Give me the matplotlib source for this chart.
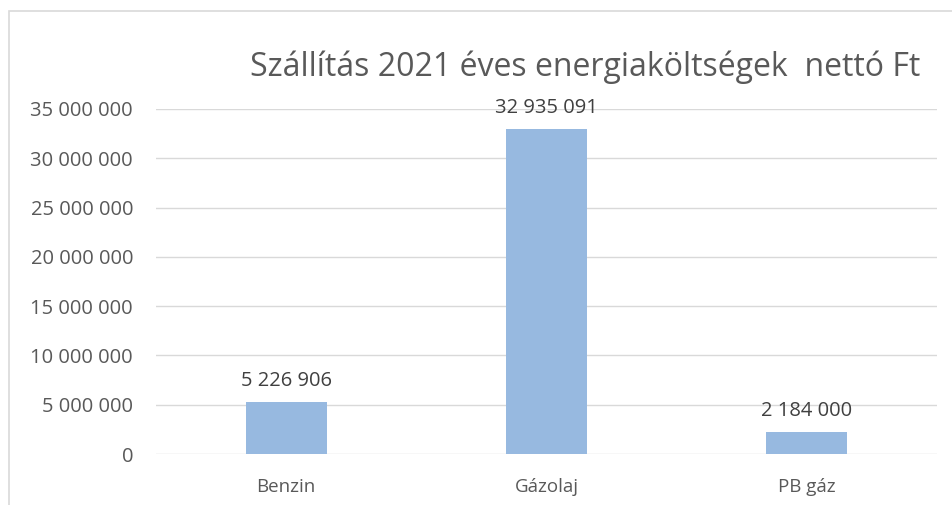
import matplotlib as mpl
mpl.use("Agg")
import matplotlib.pyplot as plt
from matplotlib.patches import Rectangle
from matplotlib.ticker import FuncFormatter

plt.rcParams['font.family'] = ['Open Sans', 'DejaVu Sans']

categories = ["Benzin", "Gázolaj", "PB gáz"]
values = [5226906, 32935091, 2184000]
yticks = [0, 5000000, 10000000, 15000000, 20000000, 25000000, 30000000, 35000000]
title = "Szállítás 2021 éves energiaköltségek  nettó Ft"

txt = "#595959"
grid = "#D9D9D9"
bar_color = "#97B9E0"

def fmt(v):
    return "{:,}".format(int(v)).replace(",", " ")

fig = plt.figure(figsize=(9.52, 5.05), dpi=100)
W, H = 952, 505

# chart frame (only left and top edges are visible in the crop)
fig.patches.append(Rectangle((9 / W, -0.5), 2.0, 1.5 - 11 / H, transform=fig.transFigure,
                             fill=False, edgecolor=grid, linewidth=1.2))

ax = fig.add_axes([156 / W, 1 - 454 / H, (937 - 156) / W, (454 - 109) / H])
x = range(len(categories))
ax.bar(x, values, width=0.31, color=bar_color, zorder=2)
ax.set_xlim(-0.5, 2.5)
ax.set_ylim(0, 35000000)
ax.set_yticks(yticks)
ax.yaxis.set_major_formatter(FuncFormatter(lambda v, p: fmt(v)))
ax.set_xticks(list(x))
ax.set_xticklabels(categories)
ax.grid(axis="y", color=grid, linewidth=1.0, zorder=0)
for s in ax.spines.values():
    s.set_visible(False)
ax.tick_params(length=0, colors=txt)
ax.tick_params(axis="y", pad=16.5, labelsize=14.5)
ax.tick_params(axis="x", pad=17.5, labelsize=13.5)

for xi, v in zip(x, values):
    ax.annotate(fmt(v), (xi, v), xytext=(0, 8), textcoords="offset points",
                ha="center", va="bottom", color="#404040", fontsize=14.5)

fig.text(585 / W, 1 - 76 / H, title, ha="center", va="baseline", color=txt, fontsize=23)

fig.savefig("out.png", dpi=100)
